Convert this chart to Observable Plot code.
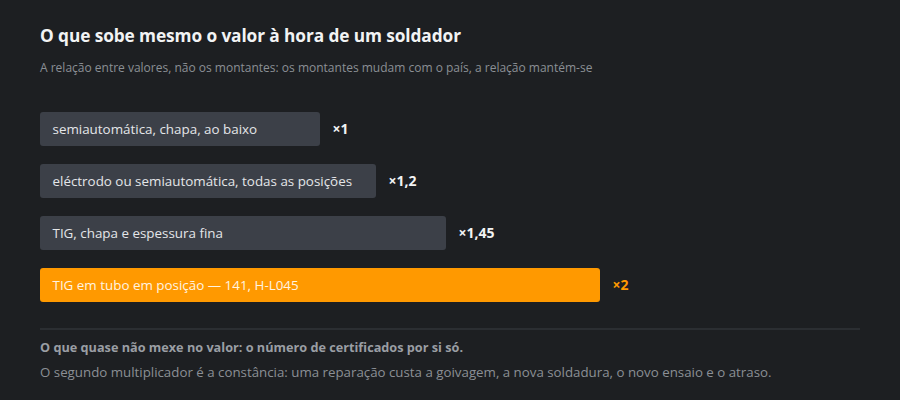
<!DOCTYPE html>
<html><head><meta charset="utf-8">
<script src="https://cdn.jsdelivr.net/npm/d3@7"></script>
<script src="https://cdn.jsdelivr.net/npm/@observablehq/plot@0.6"></script>
<style>
html,body{margin:0;padding:0;background:#1d1f22;}
body{width:900px;height:400px;overflow:hidden;font-family:"Open Sans",sans-serif;}
h1{margin:0;position:absolute;left:40px;top:24px;font-size:17.3px;font-weight:700;color:#f2f3f4;letter-spacing:-0.1px;}
.sub{position:absolute;left:40px;top:59px;font-size:12px;color:#8b8f95;}
#chart{position:absolute;left:0;top:103px;}
.rule{position:absolute;left:40px;top:328px;width:820px;height:2px;background:#2b2e32;}
.f1{position:absolute;left:40px;top:338px;font-size:12.7px;font-weight:700;color:#9a9ea4;}
.f2{position:absolute;left:40px;top:363px;font-size:13.3px;color:#8b8f95;}
</style></head>
<body>
<h1>O que sobe mesmo o valor à hora de um soldador</h1>
<div class="sub">A relação entre valores, não os montantes: os montantes mudam com o país, a relação mantém-se</div>
<div id="chart"></div>
<div class="rule"></div>
<div class="f1">O que quase não mexe no valor: o número de certificados por si só.</div>
<div class="f2">O segundo multiplicador é a constância: uma reparação custa a goivagem, a nova soldadura, o novo ensaio e o atraso.</div>
<script>
const categories = ["semiautomática, chapa, ao baixo","eléctrodo ou semiautomática, todas as posições","TIG, chapa e espessura fina","TIG em tubo em posição — 141, H-L045"];
const multipliers = [1, 1.2, 1.45, 2];
const valueLabels = ["×1","×1,2","×1,45","×2"];
const highlight = [false,false,false,true];
const data = categories.map((c,i)=>({cat:c, v:multipliers[i], lab:valueLabels[i], hi:highlight[i]}));
const plot = Plot.plot({
  width:900, height:208,
  marginLeft:0, marginRight:0, marginTop:0, marginBottom:0,
  style:{background:"transparent", fontFamily:"'Open Sans',sans-serif"},
  x:{domain:[0,2], range:[40,600], axis:null},
  y:{domain:categories, padding:0, axis:null},
  marks:[
    Plot.barX(data,{x:"v", y:"cat", fill:d=>d.hi?"#ff9900":"#3c4048", insetTop:9, insetBottom:9, rx:3}),
    Plot.text(data,{x:0, y:"cat", text:"cat", dx:12, textAnchor:"start", fill:d=>d.hi?"#fff4e0":"#e4e6e8", fontSize:13.4}),
    Plot.text(data,{x:"v", y:"cat", text:"lab", dx:12, textAnchor:"start", fill:d=>d.hi?"#ff9900":"#f2f3f4", fontSize:14, fontWeight:700})
  ]
});
document.getElementById("chart").appendChild(plot);
</script>
</body></html>
